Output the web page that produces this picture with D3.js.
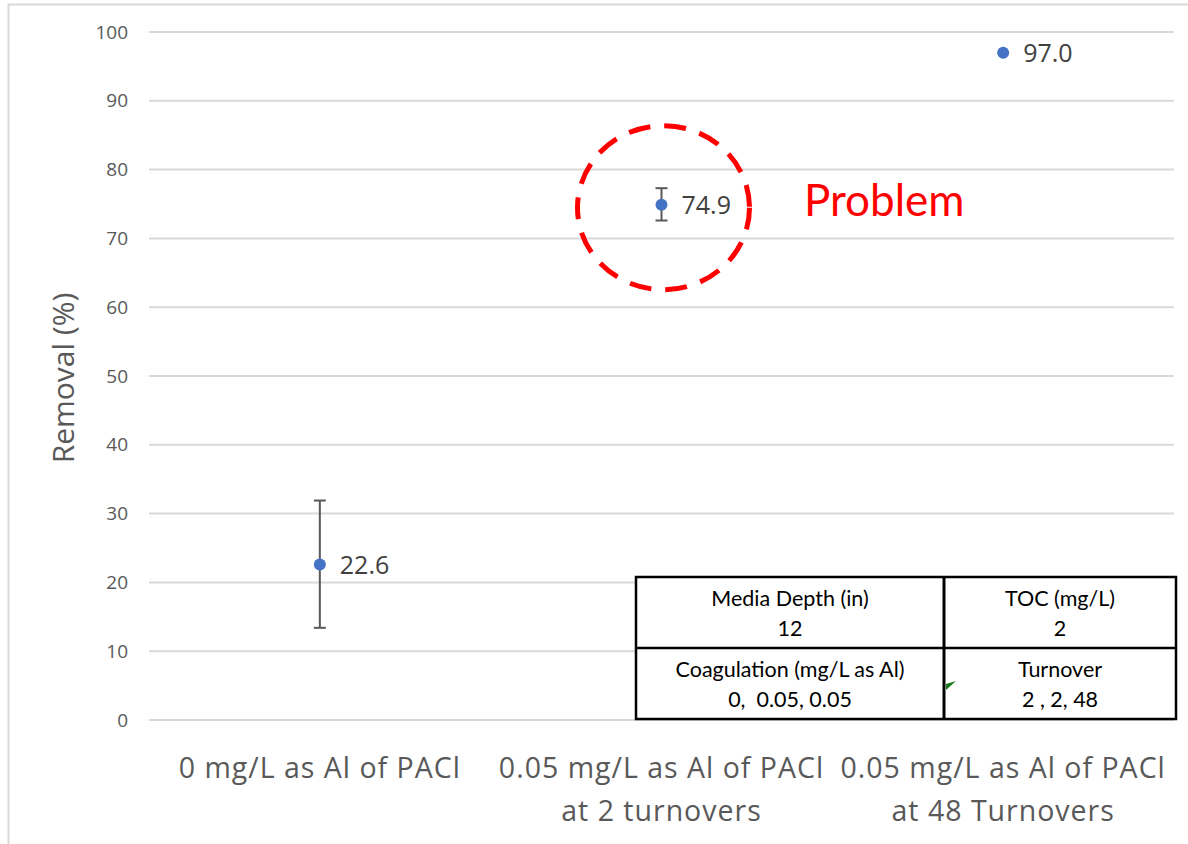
<!DOCTYPE html>
<html>
<head>
<meta charset="utf-8">
<script src="https://cdn.jsdelivr.net/npm/d3@7"></script>
<style>
  body { margin: 0; background: #fff; }
  svg { display: block; }
</style>
</head>
<body>
<svg id="chart"></svg>
<script>
var categories = [
  ["0 mg/L as Al of PACl"],
  ["0.05 mg/L as Al of PACl", "at 2 turnovers"],
  ["0.05 mg/L as Al of PACl", "at 48 Turnovers"]
];
var removal = [22.6, 74.9, 97.0];
var errPlus = [9.3, 2.4, 0];
var errMinus = [9.2, 2.3, 0];
var yTicks = [0, 10, 20, 30, 40, 50, 60, 70, 80, 90, 100];
var tableRows = [
  [["Media Depth (in)", "12"], ["TOC (mg/L)", "2"]],
  [["Coagulation (mg/L as Al)", "0,  0.05, 0.05"], ["Turnover", "2 , 2, 48"]]
];

var w = 1188, h = 844;
var svg = d3.select("#chart").attr("width", w).attr("height", h);

// chart frame
svg.append("rect")
  .attr("x", 8.5).attr("y", 4.5)
  .attr("width", w + 10).attr("height", h + 10)
  .attr("fill", "none").attr("stroke", "#d9d9d9").attr("stroke-width", 2);

var plotL = 149, plotR = 1174, plotT = 32, plotB = 720;

var x = d3.scaleBand()
  .domain(d3.range(categories.length))
  .range([plotL, plotR]);
var y = d3.scaleLinear().domain([0, 100]).range([plotB, plotT]);
var cx = function(i){return x(i) + x.bandwidth() / 2;};

// gridlines
svg.append("g").selectAll("line")
  .data(yTicks)
  .enter()
  .append("line")
    .attr("x1", plotL).attr("x2", plotR)
    .attr("y1", function(d){return y(d);})
    .attr("y2", function(d){return y(d);})
    .attr("stroke", "#d9d9d9").attr("stroke-width", 2);

// y axis labels
var yAxis = d3.axisLeft(y).tickValues(yTicks).tickSize(0).tickPadding(21);
var gy = svg.append("g").attr("transform", `translate(${plotL},0)`).call(yAxis);
gy.select(".domain").remove();
gy.selectAll("text")
  .attr("font-family", "'Open Sans', sans-serif")
  .attr("font-size", 19)
  .attr("fill", "#595959");

svg.append("text")
  .attr("transform", `translate(74,${(plotT + plotB) / 2 + 2}) rotate(-90)`)
  .attr("text-anchor", "middle")
  .attr("font-family", "'Open Sans', sans-serif")
  .attr("font-size", 30)
  .attr("fill", "#595959")
  .text("Removal (%)");

// category labels
var gx = svg.append("g").selectAll("text")
  .data(categories)
  .enter()
  .append("text")
    .attr("x", function(d, i){return cx(i);})
    .attr("y", 778)
    .attr("text-anchor", "middle")
    .attr("font-family", "'Open Sans', sans-serif")
    .attr("font-size", 28.5)
    .attr("letter-spacing", 1)
    .attr("fill", "#595959");
gx.selectAll("tspan")
  .data(function(d){return d;})
  .enter()
  .append("tspan")
    .attr("x", function(){return d3.select(this.parentNode).attr("x");})
    .attr("dy", function(d, i){return i === 0 ? 0 : 43;})
    .text(function(d){return d;});

// error bars
var ebData = removal.map(function(d, i){return {i: i, hi: d + errPlus[i], lo: d - errMinus[i]};})
  .filter(function(d){return errPlus[d.i] > 0;});
var eb = svg.append("g").selectAll("g")
  .data(ebData)
  .enter()
  .append("g")
  .attr("stroke", "#595959").attr("stroke-width", 2);
eb.append("line")
  .attr("x1", function(d){return cx(d.i);})
  .attr("x2", function(d){return cx(d.i);})
  .attr("y1", function(d){return y(d.hi);})
  .attr("y2", function(d){return y(d.lo);});
["hi", "lo"].forEach(function(k){
  eb.append("line")
    .attr("x1", function(d){return cx(d.i) - 6;})
    .attr("x2", function(d){return cx(d.i) + 6;})
    .attr("y1", function(d){return y(d[k]);})
    .attr("y2", function(d){return y(d[k]);});
});

// points
svg.append("g").selectAll("circle")
  .data(removal)
  .enter()
  .append("circle")
    .attr("cx", function(d, i){return cx(i);})
    .attr("cy", function(d){return y(d);})
    .attr("r", 6)
    .attr("fill", "#4472c4");

// data labels
svg.append("g").selectAll("text")
  .data(removal)
  .enter()
  .append("text")
    .attr("x", function(d, i){return cx(i) + 20;})
    .attr("y", function(d){return y(d) + 9;})
    .attr("font-family", "'Open Sans', sans-serif")
    .attr("font-size", 25)
    .attr("fill", "#404040")
    .text(function(d){return d.toFixed(1);});

// problem annotation
svg.append("ellipse")
  .attr("cx", cx(1) + 2).attr("cy", y(removal[1]) + 3)
  .attr("rx", 86).attr("ry", 82)
  .attr("fill", "none")
  .attr("stroke", "#ff0000").attr("stroke-width", 5)
  .attr("stroke-dasharray", "22,14");
svg.append("text")
  .attr("x", 804).attr("y", 216)
  .attr("font-family", "Lato, 'Open Sans', sans-serif")
  .attr("font-size", 44)
  .attr("fill", "#ff0000")
  .text("Problem");

// conditions table
var tx = 636, ty = 577, colW = [308, 232], rowH = 71;
var tbl = svg.append("g");
tbl.append("rect")
  .attr("x", tx).attr("y", ty)
  .attr("width", d3.sum(colW)).attr("height", rowH * 2)
  .attr("fill", "#fff");
tableRows.forEach(function(row, r){
  row.forEach(function(cell, c){
    var cx0 = tx + d3.sum(colW.slice(0, c));
    tbl.append("g").selectAll("text")
      .data(cell)
      .enter()
      .append("text")
        .attr("x", cx0 + colW[c] / 2)
        .attr("y", function(d, k){return ty + r * rowH + 29 + k * 30;})
        .attr("text-anchor", "middle")
        .attr("font-family", "Lato, 'Open Sans', sans-serif")
        .attr("font-size", 21.5)
        .attr("fill", "#000")
        .style("white-space", "pre")
        .text(function(d){return d;});
  });
});
tbl.append("rect")
  .attr("x", tx).attr("y", ty)
  .attr("width", d3.sum(colW)).attr("height", rowH * 2)
  .attr("fill", "none").attr("stroke", "#000").attr("stroke-width", 2.5);
tbl.append("line")
  .attr("x1", tx + colW[0]).attr("x2", tx + colW[0])
  .attr("y1", ty).attr("y2", ty + rowH * 2)
  .attr("stroke", "#000").attr("stroke-width", 3);
tbl.append("line")
  .attr("x1", tx).attr("x2", tx + d3.sum(colW))
  .attr("y1", ty + rowH).attr("y2", ty + rowH)
  .attr("stroke", "#000").attr("stroke-width", 2.5);
tbl.append("path")
  .attr("d", `M${tx + colW[0] + 2},${ty + rowH + 36} l10,-3 l-10,9 z`)
  .attr("fill", "#1a7a1a");
</script>
</body>
</html>
